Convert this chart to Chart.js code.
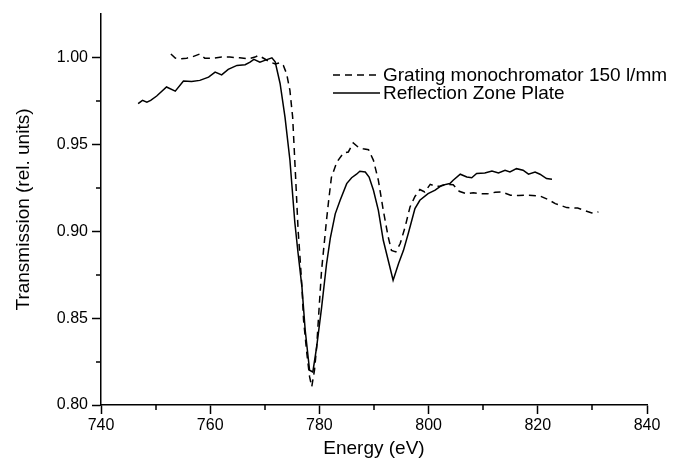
<!DOCTYPE html>
<html>
<head>
<meta charset="utf-8">
<script src="https://cdn.jsdelivr.net/npm/chart.js@4.4.1/dist/chart.umd.min.js"></script>
<style>
  html, body { margin: 0; padding: 0; background: #fff; }
  #wrap { width: 678px; height: 466px; }
</style>
</head>
<body>
<div id="wrap"><canvas id="chart" width="678" height="466"></canvas></div>
<script>
// values
const gratingEnergy = [752.8, 753.6, 754.5, 755.7, 756.6, 758.1, 759.0, 760.6, 762.1, 763.6, 765.4, 767.0, 768.2, 768.8, 769.4, 771.0, 771.9, 772.8, 773.4, 774.0, 774.6, 775.1, 775.4, 775.7, 775.9, 776.1, 776.4, 776.8, 777.1, 777.7, 778.2, 778.6, 779.1, 779.5, 780.0, 780.4, 781.0, 781.3, 781.7, 782.2, 783.2, 784.4, 785.3, 786.2, 787.1, 788.0, 789.0, 789.9, 790.8, 791.7, 792.6, 793.2, 794.0, 794.8, 795.7, 796.6, 797.5, 798.4, 799.3, 800.3, 801.2, 802.1, 803.3, 804.5, 805.6, 807.0, 808.2, 809.4, 810.8, 812.2, 813.4, 815.0, 816.5, 818.0, 820.4, 821.9, 823.2, 825.3, 827.3, 829.9, 831.1]
const gratingTransmission = [1.0020, 0.9996, 0.9992, 0.9996, 1.0002, 1.0020, 0.9996, 0.9996, 1.0002, 1.0002, 0.9998, 0.9992, 1.0002, 1.0011, 1.0002, 0.9973, 0.9963, 0.9970, 0.9954, 0.9906, 0.9810, 0.9657, 0.9466, 0.9274, 0.9140, 0.9006, 0.8872, 0.8680, 0.8489, 0.8297, 0.8163, 0.8105, 0.8200, 0.8335, 0.8584, 0.8776, 0.8967, 0.9063, 0.9178, 0.9310, 0.9398, 0.9450, 0.9456, 0.9508, 0.9484, 0.9475, 0.9469, 0.9408, 0.9293, 0.9120, 0.8967, 0.8890, 0.8881, 0.8929, 0.9025, 0.9140, 0.9200, 0.9240, 0.9226, 0.9270, 0.9259, 0.9259, 0.9270, 0.9268, 0.9230, 0.9215, 0.9222, 0.9216, 0.9215, 0.9224, 0.9226, 0.9207, 0.9206, 0.9207, 0.9203, 0.9182, 0.9159, 0.9136, 0.9133, 0.9105, 0.9111]

const rzpEnergy = [746.8, 747.6, 748.4, 749.1, 750.2, 752.0, 753.6, 755.1, 756.6, 758.1, 759.7, 760.9, 762.1, 763.3, 764.9, 766.4, 767.3, 768.0, 769.1, 770.0, 771.3, 771.9, 772.8, 773.7, 774.6, 775.5, 776.1, 776.8, 777.4, 778.2, 778.8, 779.5, 780.4, 781.3, 782.0, 782.9, 783.8, 785.0, 785.9, 786.8, 787.4, 788.4, 789.1, 789.9, 790.8, 791.7, 792.6, 793.5, 794.5, 795.4, 796.3, 797.5, 798.4, 799.9, 801.2, 802.4, 803.9, 804.5, 805.8, 807.0, 807.9, 808.8, 810.3, 811.6, 812.8, 814.0, 814.9, 816.1, 817.3, 818.3, 819.5, 820.4, 821.6, 822.6]
const rzpTransmission = [0.9734, 0.9753, 0.9743, 0.9753, 0.9778, 0.9830, 0.9806, 0.9864, 0.9862, 0.9868, 0.9887, 0.9916, 0.9900, 0.9931, 0.9954, 0.9958, 0.9973, 0.9989, 0.9973, 0.9983, 0.9998, 0.9975, 0.9850, 0.9657, 0.9410, 0.9050, 0.8872, 0.8680, 0.8430, 0.8200, 0.8190, 0.8335, 0.8560, 0.8810, 0.8960, 0.9100, 0.9178, 0.9274, 0.9308, 0.9328, 0.9345, 0.9341, 0.9312, 0.9236, 0.9120, 0.8948, 0.8833, 0.8718, 0.8814, 0.8890, 0.8990, 0.9130, 0.9178, 0.9216, 0.9236, 0.9264, 0.9274, 0.9293, 0.9328, 0.9312, 0.9308, 0.9332, 0.9335, 0.9347, 0.9335, 0.9351, 0.9341, 0.9360, 0.9351, 0.9328, 0.9341, 0.9328, 0.9303, 0.9299]

const xTickLabels = ['740', '760', '780', '800', '820', '840']
const yTickLabels = ['0.80', '0.85', '0.90', '0.95', '1.00']

const FONT = 'Arial, "Liberation Sans", sans-serif'

const toPoints = (xs, ys) => xs.map((x, i) => ({ x: x, y: ys[i] }))

// short unlabelled ticks between the labelled ones
const minorTicks = {
  id: 'minorTicks',
  afterDraw(chart) {
    const ctx = chart.ctx
    const xScale = chart.scales.x
    const yScale = chart.scales.y
    ctx.save()
    ctx.strokeStyle = '#000'
    ctx.lineWidth = 1.5
    ctx.beginPath()
    xScale.ticks.forEach((t) => {
      if (t.label !== '') return
      const px = Math.round(xScale.getPixelForValue(t.value))
      ctx.moveTo(px, xScale.top)
      ctx.lineTo(px, xScale.top + 5)
    })
    yScale.ticks.forEach((t) => {
      if (t.label !== '' || t.value > 1.01) return
      const py = Math.round(yScale.getPixelForValue(t.value))
      ctx.moveTo(yScale.right, py)
      ctx.lineTo(yScale.right - 5, py)
    })
    ctx.stroke()
    ctx.restore()
  },
}

// legend drawn inside the plot, line sample + label
const lineLegend = {
  id: 'lineLegend',
  afterDraw(chart) {
    const { ctx, chartArea } = chart
    const x0 = chartArea.left + 232
    const y0 = chartArea.top + 61
    chart.data.datasets.forEach((ds, i) => {
      const y = y0 + i * 18
      ctx.save()
      ctx.strokeStyle = ds.borderColor
      ctx.lineWidth = ds.borderWidth
      ctx.setLineDash(ds.borderDash || [])
      ctx.beginPath()
      ctx.moveTo(x0, y)
      ctx.lineTo(x0 + 47, y)
      ctx.stroke()
      ctx.setLineDash([])
      ctx.fillStyle = '#000'
      ctx.font = '19px ' + FONT
      ctx.textBaseline = 'middle'
      ctx.fillText(ds.label, x0 + 50, y + 1)
      ctx.restore()
    })
  },
}

new Chart(document.getElementById('chart'), {
  type: 'line',
  data: {
    datasets: [
      {
        label: 'Grating monochromator 150 l/mm',
        data: toPoints(gratingEnergy, gratingTransmission),
        borderColor: '#000',
        borderWidth: 1.5,
        borderDash: [7, 5],
        pointRadius: 0,
        tension: 0,
        fill: false,
      },
      {
        label: 'Reflection Zone Plate',
        data: toPoints(rzpEnergy, rzpTransmission),
        borderColor: '#000',
        borderWidth: 1.5,
        pointRadius: 0,
        tension: 0,
        fill: false,
      },
    ],
  },
  plugins: [minorTicks, lineLegend],
  options: {
    responsive: false,
    animation: false,
    layout: { padding: { top: 14, right: 31, left: 0, bottom: 0 } },
    plugins: {
      legend: { display: false },
      tooltip: { enabled: false },
    },
    scales: {
      x: {
        type: 'linear',
        min: 740,
        max: 840,
        afterFit: (scale) => { scale.height = 61 },
        ticks: {
          stepSize: 10,
          autoSkip: false,
          maxRotation: 0,
          padding: 2,
          color: '#000',
          font: { family: FONT, size: 16 },
          callback: (v) => {
            const s = String(Math.round(v))
            return Math.abs(v - Math.round(v)) < 1e-6 && xTickLabels.includes(s) ? s : ''
          },
        },
        grid: {
          drawOnChartArea: false,
          tickLength: 9,
          tickWidth: 1.5,
          tickColor: (c) => (c.tick && c.tick.label !== '' ? '#000' : 'rgba(0,0,0,0)'),
        },
        border: { color: '#000', width: 1.5 },
        title: {
          display: true,
          text: 'Energy (eV)',
          color: '#000',
          font: { family: FONT, size: 19 },
          padding: { top: 0, bottom: 6 },
        },
      },
      y: {
        min: 0.8,
        max: 1.025,
        afterFit: (scale) => { scale.width = 101 },
        ticks: {
          stepSize: 0.025,
          autoSkip: false,
          padding: 4,
          color: '#000',
          font: { family: FONT, size: 16 },
          callback: (v) => {
            const s = v.toFixed(2)
            return yTickLabels.includes(s) && Math.abs(v - Number(s)) < 1e-6 ? s : ''
          },
        },
        grid: {
          drawOnChartArea: false,
          tickLength: 9,
          tickWidth: 1.5,
          tickColor: (c) => (c.tick && c.tick.label !== '' ? '#000' : 'rgba(0,0,0,0)'),
        },
        border: { color: '#000', width: 1.5 },
        title: {
          display: true,
          text: 'Transmission (rel. units)',
          color: '#000',
          font: { family: FONT, size: 19 },
          padding: { top: 12, bottom: 0 },
        },
      },
    },
  },
})
</script>
</body>
</html>
